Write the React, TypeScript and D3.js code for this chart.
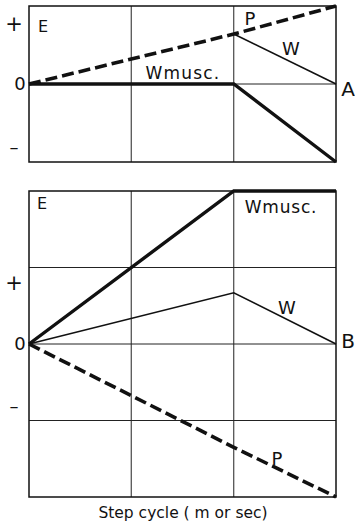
import React from 'react';
import * as d3 from 'd3';

// step cycle positions (fraction of cycle)
const phases = [0, 0.667, 1];

// panel A (top)
const aP = [0, 0.64, 1];
const aWmusc = [0, 0, -1];
const aW = [null, 0.64, 0];

// panel B (bottom)
const bWmusc = [0, 2, 2];
const bW = [0, 0.67, 0];
const bP = [0, -1.35, -2];

const xTicks = [0.333, 0.667];
const aGrid = [0];
const bGrid = [-1, 0, 1];
const aSignTicks = [
  { v: 0.78, t: '+' },
  { v: 0, t: '0' },
  { v: -0.8, t: '\u2013' },
];
const bSignTicks = [
  { v: 0.8, t: '+' },
  { v: 0, t: '0' },
  { v: -0.8, t: '\u2013' },
];

const font = 'DejaVu Sans, sans-serif';

type PanelProps = {
  top: number;
  bottom: number;
  domain: [number, number];
  grid: number[];
  signs: { v: number; t: string }[];
  series: { vals: (number | null)[]; width: number; dash?: string }[];
  labels: { text: string; x: number; v: number; size?: number; spacing?: number }[];
};

const left = 29;
const right = 336;

const x = d3.scaleLinear().domain([0, 1]).range([left, right]);

const Panel = ({ top, bottom, domain, grid, signs, series, labels }: PanelProps) => {
  const y = d3.scaleLinear().domain(domain).range([bottom, top]);
  const line = d3
    .line<[number, number | null]>()
    .defined((d) => d[1] !== null)
    .x((d) => x(d[0]))
    .y((d) => y(d[1] as number));
  return (
    <g>
      {xTicks.map((t) => (
        <line key={'v' + t} x1={x(t)} x2={x(t)} y1={top} y2={bottom} stroke="#222" strokeWidth={1} />
      ))}
      {grid.map((g) => (
        <line key={'h' + g} x1={left} x2={right} y1={y(g)} y2={y(g)} stroke="#222" strokeWidth={1} />
      ))}
      <rect x={left} y={top} width={right - left} height={bottom - top} fill="none" stroke="#111" strokeWidth={1.5} />
      {signs.map((s) => (
        <text
          key={s.t}
          x={s.t === '0' ? 20 : 14}
          y={y(s.v)}
          dy="0.35em"
          textAnchor="middle"
          fontFamily={font}
          fontSize={s.t === '+' ? 21 : 18}
          fill="#111"
        >
          {s.t}
        </text>
      ))}
      {series.map((s, i) => (
        <path
          key={i}
          d={line(phases.map((p, j) => [p, s.vals[j]]) as [number, number | null][]) || ''}
          fill="none"
          stroke="#111"
          strokeWidth={s.width}
          strokeDasharray={s.dash}
        />
      ))}
      {labels.map((l) => (
        <text
          key={l.text}
          x={l.x}
          y={y(l.v)}
          dy="0.35em"
          textAnchor="middle"
          fontFamily={font}
          fontSize={l.size || 18}
          letterSpacing={l.spacing || 0}
          fill="#111"
        >
          {l.text}
        </text>
      ))}
    </g>
  );
};

export default function App() {
  return (
    <svg width={355} height={525} style={{ position: 'absolute', left: 0, top: 0, background: '#fff' }}>
      <Panel
        top={6}
        bottom={162}
        domain={[-1, 1]}
        grid={aGrid}
        signs={aSignTicks}
        series={[
          { vals: aWmusc, width: 3.4 },
          { vals: aW, width: 1.6 },
          { vals: aP, width: 3.6, dash: '12,5' },
        ]}
        labels={[
          { text: 'E', x: 43, v: 0.74, size: 16 },
          { text: 'Wmusc.', x: 183, v: 0.14, size: 17, spacing: 1.2 },
          { text: 'P', x: 250, v: 0.84 },
          { text: 'W', x: 291, v: 0.45 },
          { text: 'A', x: 348, v: -0.06, size: 20 },
        ]}
      />
      <Panel
        top={191}
        bottom={497}
        domain={[-2, 2]}
        grid={bGrid}
        signs={bSignTicks}
        series={[
          { vals: bWmusc, width: 3.4 },
          { vals: bW, width: 1.6 },
          { vals: bP, width: 3.6, dash: '12,5' },
        ]}
        labels={[
          { text: 'E', x: 42, v: 1.84, size: 16 },
          { text: 'Wmusc.', x: 281, v: 1.79, size: 17, spacing: 0.8 },
          { text: 'W', x: 287, v: 0.48 },
          { text: 'P', x: 277, v: -1.5 },
          { text: 'B', x: 348, v: 0.04, size: 20 },
        ]}
      />
      <text x={183} y={518} textAnchor="middle" fontFamily={font} fontSize={15.5} fill="#111">
        Step cycle ( m or sec)
      </text>
    </svg>
  );
}
